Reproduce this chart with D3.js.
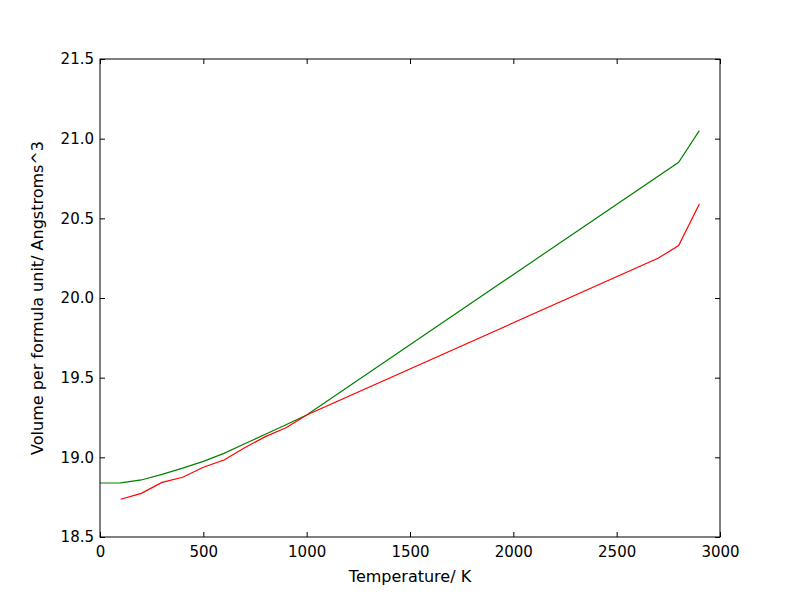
<!DOCTYPE html>
<html>
<head>
<meta charset="utf-8">
<script src="https://cdn.jsdelivr.net/npm/d3@7"></script>
<style>
  body { margin: 0; background: #fff; }
  text { font-family: "DejaVu Sans", sans-serif; fill: #000; }
</style>
</head>
<body>
<svg id="chart" width="800" height="597"></svg>
<script>
// temperature (K) and volume per formula unit (A^3)
var greenT = [0, 100, 200, 300, 400, 500, 600, 700, 800, 900, 1000, 2800, 2900];
var greenV = [18.839, 18.840, 18.858, 18.893, 18.932, 18.975, 19.025, 19.085, 19.145, 19.205, 19.266, 20.852, 21.05];

var redT = [100, 200, 300, 400, 500, 600, 700, 800, 900, 1000, 2700, 2800, 2900];
var redV = [18.737, 18.774, 18.843, 18.875, 18.938, 18.983, 19.06, 19.13, 19.186, 19.266, 20.249, 20.329, 20.59];

var xTicks = [0, 500, 1000, 1500, 2000, 2500, 3000];
var yTicks = [18.5, 19.0, 19.5, 20.0, 20.5, 21.0, 21.5];

// plot box (window.top is taken, so no plain "top")
var plotL = 100, plotR = 720, plotT = 59, plotB = 537;
var tickLen = 5;

var svg = d3.select("#chart");

var x = d3.scaleLinear().domain([0, 3000]).range([plotL, plotR]);
var y = d3.scaleLinear().domain([18.5, 21.5]).range([plotB, plotT]);

// lines
var line = d3.line().x(d => x(d[0])).y(d => y(d[1]));

svg.append("path")
   .datum(d3.zip(greenT, greenV))
   .attr("d", line)
   .attr("fill", "none")
   .attr("stroke", "#008000")
   .attr("stroke-width", 1.2);

svg.append("path")
   .datum(d3.zip(redT, redV))
   .attr("d", line)
   .attr("fill", "none")
   .attr("stroke", "#ff0000")
   .attr("stroke-width", 1.2);

// ticks pointing inward on all four sides
var xAxisB = d3.axisBottom(x).tickValues(xTicks).tickSize(-tickLen).tickPadding(9).tickFormat(d3.format("d"));
var xAxisT = d3.axisTop(x).tickValues(xTicks).tickSize(-tickLen).tickFormat("");
var yAxisL = d3.axisLeft(y).tickValues(yTicks).tickSize(-tickLen).tickPadding(6).tickFormat(d3.format(".1f"));
var yAxisR = d3.axisRight(y).tickValues(yTicks).tickSize(-tickLen).tickFormat("");

function styleAxis(g) {
  g.select(".domain").remove();
  g.selectAll("line").attr("stroke", "#000").attr("stroke-width", 1);
  g.selectAll("text").attr("font-family", "DejaVu Sans").attr("font-size", 15).attr("fill", "#000");
}

svg.append("g").attr("transform", "translate(0," + plotB + ")").call(xAxisB).call(styleAxis);
svg.append("g").attr("transform", "translate(0," + plotT + ")").call(xAxisT).call(styleAxis);
svg.append("g").attr("transform", "translate(" + plotL + ",0)").call(yAxisL).call(styleAxis);
svg.append("g").attr("transform", "translate(" + plotR + ",0)").call(yAxisR).call(styleAxis);

// frame
svg.append("rect")
   .attr("x", plotL).attr("y", plotT)
   .attr("width", plotR - plotL).attr("height", plotB - plotT)
   .attr("fill", "none").attr("stroke", "#000").attr("stroke-width", 1);

// axis labels
svg.append("text")
   .attr("x", (plotL + plotR) / 2).attr("y", 582)
   .attr("text-anchor", "middle")
   .attr("font-size", 16)
   .text("Temperature/ K");

svg.append("text")
   .attr("transform", "translate(43," + (plotT + plotB) / 2 + ") rotate(-90)")
   .attr("text-anchor", "middle")
   .attr("font-size", 16)
   .text("Volume per formula unit/ Angstroms^3");
</script>
</body>
</html>
